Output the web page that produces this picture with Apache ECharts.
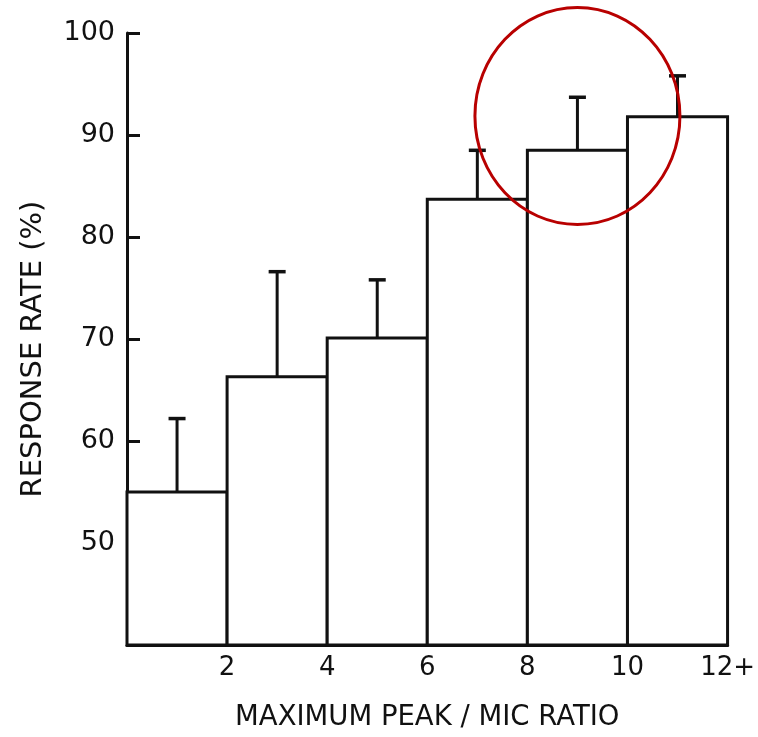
<!DOCTYPE html>
<html>
<head>
<meta charset="utf-8">
<script src="https://cdn.jsdelivr.net/npm/echarts@6/dist/echarts.min.js"></script>
<style>
  html, body { margin: 0; padding: 0; background: #fff; }
  #chart { width: 758px; height: 737px; }
</style>
</head>
<body>
<div id="chart"></div>
<script>
// ---- data ----
const binStarts = [0, 2, 4, 6, 8, 10];
const binEnds   = [2, 4, 6, 8, 10, 12];
const responseRate = [55.0, 66.3, 70.1, 83.7, 88.5, 91.8];
const errorUpper   = [62.2, 76.6, 75.8, 88.5, 93.7, 95.8];
const xTickValues  = [2, 4, 6, 8, 10, 12];
const xTickLabels  = ['2', '4', '6', '8', '10', '12+'];
const yTickValues  = [50, 60, 70, 80, 90, 100];
const highlightCenter = [9, 91.86];   // annotated region (data coords)

const xTitle = 'MAXIMUM PEAK / MIC RATIO';
const yTitle = 'RESPONSE RATE (%)';

const FONT = 'DejaVu Sans';
const INK = '#111';

const barData = binStarts.map((s, i) => [s, binEnds[i], responseRate[i]]);
const errData = binStarts.map((s, i) => [(s + binEnds[i]) / 2, responseRate[i], errorUpper[i]]);

const chart = echarts.init(document.getElementById('chart'), null, { renderer: 'canvas' });

const option = {
  backgroundColor: '#fff',
  animation: false,
  grid: { left: 127, right: 30, top: 33, bottom: 90 },
  xAxis: {
    type: 'value', min: 0, max: 12, interval: 2,
    name: xTitle, nameLocation: 'middle', nameGap: 59,
    nameTextStyle: { fontFamily: FONT, fontSize: 27.5, color: INK },
    axisLine: { show: true, lineStyle: { color: INK, width: 3 } },
    axisTick: { show: false },
    splitLine: { show: false },
    axisLabel: {
      fontFamily: FONT, fontSize: 26, color: INK, margin: 10,
      formatter: v => { const k = xTickValues.indexOf(v); return k >= 0 ? xTickLabels[k] : ''; }
    }
  },
  yAxis: {
    type: 'value', min: 40, max: 100, interval: 10,
    name: yTitle, nameLocation: 'middle', nameGap: 79, nameRotate: 90,
    nameTextStyle: { fontFamily: FONT, fontSize: 29, color: INK, padding: [0, 20, 0, 0] },
    axisLine: { show: true, lineStyle: { color: INK, width: 3 } },
    axisTick: { show: true, inside: true, length: 13, lineStyle: { color: INK, width: 3 } },
    splitLine: { show: false },
    axisLabel: {
      fontFamily: FONT, fontSize: 27, color: INK, margin: 12,
      formatter: v => yTickValues.indexOf(v) >= 0 ? String(v) : ''
    }
  },
  series: [
    {
      type: 'custom',
      name: 'Response rate',
      data: barData,
      encode: { x: [0, 1], y: 2 },
      renderItem: (params, api) => {
        const p0 = api.coord([api.value(0), api.value(2)]);
        const p1 = api.coord([api.value(1), 40]);
        return {
          type: 'rect',
          shape: { x: p0[0], y: p0[1], width: p1[0] - p0[0], height: p1[1] - p0[1] },
          style: { fill: '#fff', stroke: INK, lineWidth: 3 }
        };
      },
      z: 2
    },
    {
      type: 'custom',
      name: 'Error',
      data: errData,
      encode: { x: 0, y: [1, 2] },
      renderItem: (params, api) => {
        const base = api.coord([api.value(0), api.value(1)]);
        const top = api.coord([api.value(0), api.value(2)]);
        const cap = 8.5;
        return {
          type: 'group',
          children: [
            { type: 'line', shape: { x1: base[0], y1: base[1], x2: top[0], y2: top[1] },
              style: { stroke: INK, lineWidth: 3 } },
            { type: 'line', shape: { x1: top[0] - cap, y1: top[1], x2: top[0] + cap, y2: top[1] },
              style: { stroke: INK, lineWidth: 3.5 } }
          ]
        };
      },
      z: 3
    }
  ]
};

chart.setOption(option);

const c = chart.convertToPixel({ gridIndex: 0 }, highlightCenter);
chart.setOption({
  graphic: [{
    type: 'ellipse',
    shape: { cx: c[0], cy: c[1], rx: 102.5, ry: 108.5 },
    style: { fill: 'none', stroke: '#b80000', lineWidth: 3 },
    z: 100
  }]
});
</script>
</body>
</html>
